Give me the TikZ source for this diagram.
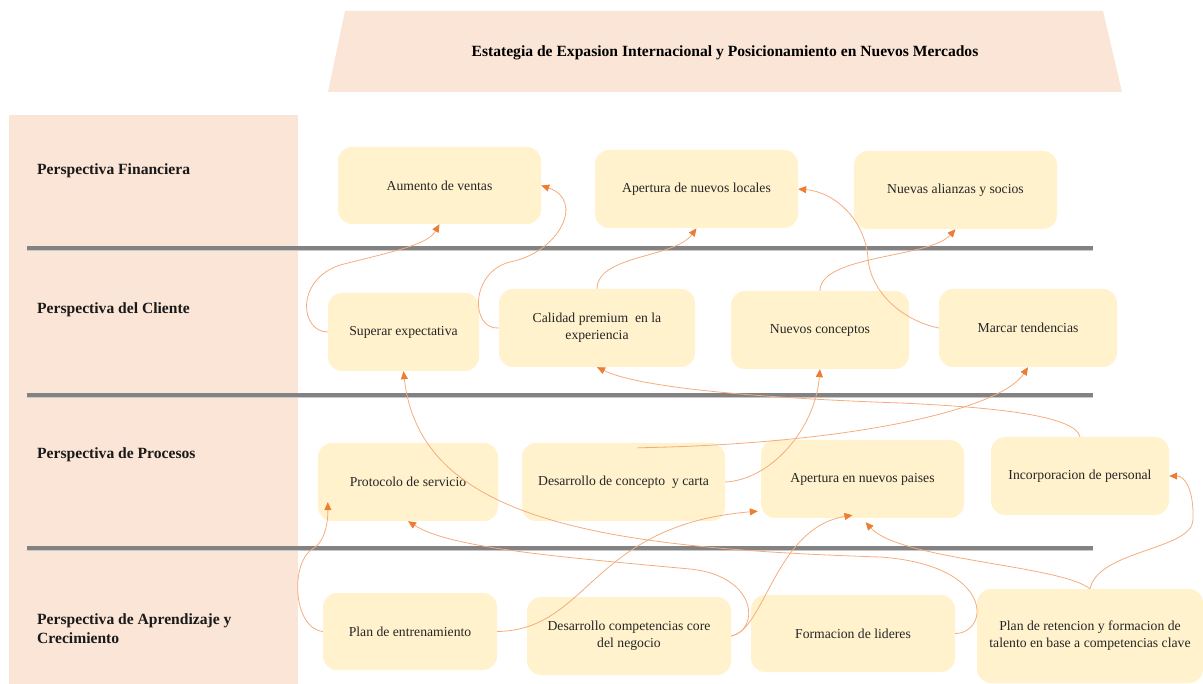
\documentclass[tikz,border=0pt]{standalone}
\usepackage{fontspec}
\setmainfont{Liberation Serif}
\usetikzlibrary{arrows.meta}

\definecolor{panelpeach}{HTML}{FBE5D6}
\definecolor{boxgold}{HTML}{FFF2CC}
\definecolor{linkorange}{HTML}{F4AC7C}
\definecolor{tiporange}{HTML}{ED7D31}
\definecolor{bargray}{HTML}{828282}
\definecolor{barshade}{HTML}{C8C8C8}

\begin{document}
\begin{tikzpicture}[x=1pt, y=-1pt,
    goal/.style={rectangle, rounded corners=14pt, fill=boxgold, align=center, text=black!85, font=\fontsize{13.7}{17}\selectfont},
    rowlabel/.style={anchor=west, align=left, inner sep=0pt, text=black!90, font=\bfseries\fontsize{15.6}{19}\selectfont},
    link/.style={draw=linkorange, line width=0.8pt, -{Triangle[color=tiporange, length=8pt, width=7pt]}},
    divider/.style={draw=bargray, line width=3.4pt},
    dividershade/.style={draw=barshade, line width=1.6pt}]

      \useasboundingbox (0,0) rectangle (1203,684);

      \fill[panelpeach] (9,115) rectangle (298,684);
      \fill[panelpeach] (345,11) -- (1103,11) -- (1122,92) -- (328,92) -- cycle;
      \node[font=\bfseries\fontsize{15.6}{19}\selectfont] (title) at (725,53) {Estategia de Expasion Internacional y Posicionamiento en Nuevos Mercados};

      \foreach \y in {248,395,548} {
        \draw[dividershade] (27,\y+2.4) -- (1093,\y+2.4);
        \draw[divider] (27,\y) -- (1093,\y);
      }

      \node[rowlabel] (financiera) at (37,171) {Perspectiva Financiera};
      \node[rowlabel] (cliente) at (37,310) {Perspectiva del Cliente};
      \node[rowlabel] (procesos) at (37,455) {Perspectiva de Procesos};
      \node[rowlabel] (aprendizaje) at (37,629) {Perspectiva de Aprendizaje y\\Crecimiento};

      \node[goal, minimum width=203pt, minimum height=77pt] (ventas) at (439.5,185.5) {Aumento de ventas};
      \node[goal, minimum width=203pt, minimum height=78pt] (locales) at (696.5,189) {Apertura de nuevos locales};
      \node[goal, minimum width=203pt, minimum height=78pt] (alianzas) at (955.5,190) {Nuevas alianzas y socios};

      \node[goal, minimum width=151pt, minimum height=78pt] (superar) at (403.5,332) {Superar expectativa};
      \node[goal, minimum width=196pt, minimum height=78pt] (calidad) at (597,328) {Calidad premium~ en la\\experiencia};
      \node[goal, minimum width=178pt, minimum height=78pt] (conceptos) at (820,330) {Nuevos conceptos};
      \node[goal, minimum width=178pt, minimum height=78pt] (tendencias) at (1028,328) {Marcar tendencias};

      \node[goal, minimum width=180pt, minimum height=78pt] (protocolo) at (408,482) {Protocolo de servicio};
      \node[goal, minimum width=203pt, minimum height=78pt] (carta) at (623.5,482) {Desarrollo de concepto~ y carta};
      \node[goal, minimum width=203pt, minimum height=78pt] (paises) at (862.5,479) {Apertura en nuevos paises};
      \node[goal, minimum width=178pt, minimum height=78pt] (personal) at (1080,476) {Incorporacion de personal};

      \node[goal, minimum width=174pt, minimum height=77pt] (entrenamiento) at (410,631.5) {Plan de entrenamiento};
      \node[goal, minimum width=204pt, minimum height=78pt] (competencias) at (629,636) {Desarrollo competencias core\\del negocio};
      \node[goal, minimum width=204pt, minimum height=77pt] (lideres) at (853,633.5) {Formacion de lideres};
      \node[goal, minimum width=226pt, minimum height=94pt] (retencion) at (1090,636) {Plan de retencion y formacion de\\talento en base a competencias clave};

      \draw[link] (superar.west) .. controls (300,332) and (295,280) .. (340,265) .. controls (400,250) and (428,244) .. (ventas.south);
      \draw[link] (calidad.west) .. controls (470,330) and (470,272) .. (510,262) .. controls (560,252) and (585,200) .. (ventas.east);
      \draw[link] (calidad.north) .. controls (597,255) and (675,258) .. (locales.south);
      \draw[link] (conceptos.north) .. controls (820,255) and (930,258) .. (alianzas.south);
      \draw[link] (tendencias.west) .. controls (900,320) and (870,290) .. (868,258) .. controls (865,220) and (835,192) .. (locales.east);

      \draw[link] (personal.north) .. controls (1075,415) and (990,407) .. (900,403) .. controls (760,398) and (640,388) .. (calidad.south);
      \draw[link] ([shift={(14,5)}]carta.north) .. controls (850,444) and (1000,410) .. (tendencias.south);
      \draw[link] (carta.east) .. controls (770,480) and (815,430) .. (conceptos.south);
      \draw[link] (lideres.east) .. controls (990,633) and (995,565) .. (880,557) .. controls (600,548) and (420,520) .. (superar.south);

      \draw[link] (entrenamiento.west) .. controls (292,628) and (290,560) .. (314,548) .. controls (326,540) and (328,520) .. ([shift={(10,-19)}]protocolo.south west);
      \draw[link] (entrenamiento.east) .. controls (590,630) and (590,525) .. ([shift={(-3,-7)}]paises.south west);
      \draw[link] (competencias.east) .. controls (765,630) and (775,528) .. ([shift={(-10,-3)}]paises.south);
      \draw[link] (competencias.east) .. controls (760,630) and (758,576) .. (690,569) .. controls (560,557) and (450,548) .. (protocolo.south);
      \draw[link] (retencion.north) .. controls (1060,565) and (900,560) .. ([shift={(3,4)}]paises.south);
      \draw[link] (retencion.north) .. controls (1098,550) and (1192,550) .. (1193,520) .. controls (1194,490) and (1185,476) .. (personal.east);
    \end{tikzpicture}
\end{document}
